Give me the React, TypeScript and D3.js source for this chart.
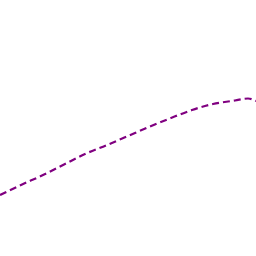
import React from "react";
import * as d3 from "d3";

const xValues = [0, 21, 43, 64, 85, 107, 128, 149, 171, 192, 213, 235, 248, 256];
const yValues = [61, 71, 81, 91.5, 102, 111, 120, 129, 138, 146, 152, 155.5, 157.5, 155];

export default function App() {
  const W = 256, H = 256;
  const x = d3.scaleLinear().domain([0, 256]).range([0, W]);
  const y = d3.scaleLinear().domain([0, 256]).range([H, 0]);
  const line = d3
    .line<number>()
    .x((_, i) => x(xValues[i]))
    .y((d) => y(d))
    .curve(d3.curveMonotoneX);
  return (
    <svg
      width={W}
      height={H}
      style={{ position: "fixed", left: 0, top: 0, background: "#fff" }}
    >
      <path
        d={line(yValues) || ""}
        fill="none"
        stroke="#800080"
        strokeWidth={2.2}
        strokeDasharray="7,4"
      />
    </svg>
  );
}
